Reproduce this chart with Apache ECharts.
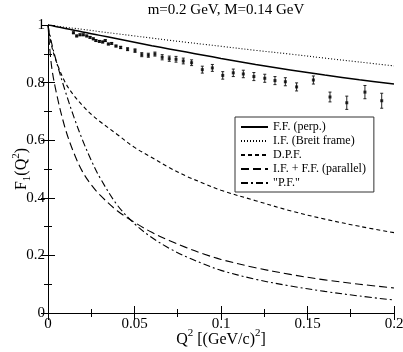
<!DOCTYPE html>
<html>
<head>
<meta charset="utf-8">
<script src="https://cdn.jsdelivr.net/npm/echarts@6/dist/echarts.min.js"></script>
<style>
  html, body { margin: 0; padding: 0; background: #fff; }
  #chart { width: 403px; height: 352px; }
</style>
</head>
<body>
<div id="chart"></div>
<script>
/* Q^2 grid used for the model curves */
let qGrid = [0, 0.002, 0.005, 0.01, 0.015, 0.02, 0.025, 0.03, 0.04, 0.05, 0.06, 0.07, 0.08, 0.09, 0.1, 0.12, 0.14, 0.16, 0.18, 0.2];

/* model curves */
let ffPerp = [1, 0.998, 0.994, 0.988, 0.982, 0.976, 0.970, 0.964, 0.952, 0.940, 0.928, 0.917, 0.906, 0.895, 0.884, 0.863, 0.844, 0.826, 0.810, 0.795];
let ifBreit = [1, 0.9984, 0.996, 0.992, 0.9885, 0.985, 0.981, 0.977, 0.9695, 0.962, 0.9545, 0.947, 0.940, 0.933, 0.926, 0.912, 0.899, 0.885, 0.8715, 0.858];
let dpf = [1, 0.93, 0.87, 0.80, 0.755, 0.72, 0.69, 0.665, 0.62, 0.575, 0.54, 0.505, 0.475, 0.45, 0.426, 0.39, 0.355, 0.326, 0.301, 0.279];
let ifffPar = [1, 0.86, 0.76, 0.64, 0.555, 0.49, 0.445, 0.41, 0.355, 0.315, 0.28, 0.252, 0.227, 0.205, 0.186, 0.157, 0.134, 0.115, 0.1, 0.087];
let pfCurve = [1, 0.94, 0.87, 0.77, 0.68, 0.60, 0.53, 0.47, 0.375, 0.31, 0.262, 0.225, 0.195, 0.17, 0.148, 0.117, 0.094, 0.075, 0.059, 0.045];

/* experimental points */
let expQ = [0.0147, 0.0166, 0.0185, 0.0204, 0.0224, 0.0243, 0.0262, 0.0277, 0.0297, 0.0316, 0.0331, 0.0349, 0.0368, 0.0393, 0.042, 0.046, 0.0503, 0.0542, 0.058, 0.0618, 0.066, 0.0701, 0.074, 0.0782, 0.083, 0.0892, 0.095, 0.101, 0.1071, 0.1129, 0.119, 0.1253, 0.1312, 0.1372, 0.1437, 0.1534, 0.163, 0.1727, 0.1832, 0.1929];
let expF = [0.973, 0.962, 0.966, 0.966, 0.962, 0.957, 0.952, 0.946, 0.943, 0.941, 0.946, 0.934, 0.936, 0.927, 0.922, 0.916, 0.911, 0.897, 0.895, 0.899, 0.888, 0.883, 0.881, 0.875, 0.869, 0.845, 0.851, 0.825, 0.834, 0.830, 0.821, 0.815, 0.807, 0.803, 0.785, 0.809, 0.750, 0.730, 0.767, 0.737];
let expErr = [0.003, 0.003, 0.003, 0.003, 0.003, 0.003, 0.003, 0.003, 0.003, 0.003, 0.003, 0.003, 0.003, 0.003, 0.004, 0.005, 0.006, 0.007, 0.007, 0.007, 0.009, 0.009, 0.01, 0.01, 0.01, 0.012, 0.012, 0.013, 0.013, 0.013, 0.014, 0.014, 0.014, 0.014, 0.014, 0.014, 0.017, 0.023, 0.023, 0.026];

let xTicks = [0, 0.05, 0.1, 0.15, 0.2];
let yTicks = [0, 0.2, 0.4, 0.6, 0.8, 1];

let FONT = "'Liberation Serif', 'DejaVu Serif', serif";

function pairs(ys) {
  return qGrid.map(function (q, i) { return [q, ys[i]]; });
}

let chart = echarts.init(document.getElementById("chart"), null, { renderer: "canvas" });

let axisCommon = {
  type: "value",
  axisLine: { show: true, lineStyle: { color: "#000", width: 1 } },
  axisTick: { show: true, inside: true, length: 7, lineStyle: { color: "#000" } },
  minorTick: { show: true, splitNumber: 2, length: 4, lineStyle: { color: "#000" } },
  splitLine: { show: false },
};

function curve(name, ys, width, dash) {
  return {
    name: name,
    type: "line",
    data: pairs(ys),
    smooth: 0.35,
    symbol: "none",
    lineStyle: { color: "#000", width: width, type: dash },
    itemStyle: { color: "#000" },
    z: 3,
  };
}

let option = {
  animation: false,
  backgroundColor: "#fff",
  title: {
    text: "m=0.2 GeV, M=0.14 GeV",
    left: 221,
    textAlign: "center",
    top: -2,
    textStyle: { fontFamily: FONT, fontSize: 15, fontWeight: "normal", color: "#000" },
  },
  grid: { left: 48, right: 9, top: 25, bottom: 39, outerBoundsMode: "none", containLabel: false },
  legend: {
    orient: "vertical",
    left: 235,
    top: 117,
    padding: [4, 8, 3, 5],
    itemGap: 2,
    itemWidth: 27,
    itemHeight: 12,
    borderColor: "#333",
    borderWidth: 1,
    backgroundColor: "#fff",
    itemStyle: { opacity: 0 },
    textStyle: { fontFamily: FONT, fontSize: 12, color: "#000" },
    data: ["F.F. (perp.)", "I.F. (Breit frame)", "D.P.F.", "I.F. + F.F. (parallel)", "\"P.F.\""],
  },
  xAxis: [
    Object.assign({}, axisCommon, {
      min: xTicks[0],
      max: xTicks[xTicks.length - 1],
      interval: 0.05,
      axisLabel: { color: "#000", fontFamily: FONT, fontSize: 15, margin: 4 },
      name: "{a|Q}{s|2}{a| [(GeV/c)}{s|2}{a|]}",
      nameLocation: "middle",
      nameMoveOverlap: false,
      nameGap: 15,
      nameTextStyle: {
        rich: {
          a: { fontFamily: FONT, fontSize: 16, color: "#000", lineHeight: 20, verticalAlign: "bottom" },
          s: { fontFamily: FONT, fontSize: 11, color: "#000", lineHeight: 12, verticalAlign: "top" },
        },
      },
    }),
    Object.assign({}, axisCommon, {
      position: "top",
      min: xTicks[0],
      max: xTicks[xTicks.length - 1],
      interval: 0.05,
      axisLabel: { show: false },
    }),
  ],
  yAxis: [
    Object.assign({}, axisCommon, {
      min: yTicks[0],
      max: yTicks[yTicks.length - 1],
      interval: 0.2,
      axisLabel: { color: "#000", fontFamily: FONT, fontSize: 15, margin: 3 },
      name: "{a|F}{b|1}{a|(Q}{s|2}{a|)}",
      nameLocation: "middle",
      nameMoveOverlap: false,
      nameRotate: 90,
      nameGap: 15,
      nameTextStyle: {
        rich: {
          a: { fontFamily: FONT, fontSize: 16, color: "#000", lineHeight: 22, verticalAlign: "middle" },
          b: { fontFamily: FONT, fontSize: 11, color: "#000", lineHeight: 22, verticalAlign: "bottom" },
          s: { fontFamily: FONT, fontSize: 11, color: "#000", lineHeight: 12, verticalAlign: "top" },
        },
      },
    }),
    Object.assign({}, axisCommon, {
      position: "right",
      min: yTicks[0],
      max: yTicks[yTicks.length - 1],
      interval: 0.2,
      axisLabel: { show: false },
    }),
  ],
  series: [
    curve("F.F. (perp.)", ffPerp, 1.5, "solid"),
    curve("I.F. (Breit frame)", ifBreit, 1.1, [1, 2]),
    curve("D.P.F.", dpf, 1.1, [4, 3]),
    curve("I.F. + F.F. (parallel)", ifffPar, 1.1, [8, 4]),
    curve("\"P.F.\"", pfCurve, 1.1, [7, 3, 2, 3]),
    {
      name: "errors",
      type: "custom",
      data: expQ.map(function (q, i) { return [q, expF[i], expErr[i]]; }),
      renderItem: function (params, api) {
        let x = api.value(0), y = api.value(1), e = api.value(2);
        let top = api.coord([x, y + e]);
        let bot = api.coord([x, y - e]);
        let st = { stroke: "#222", lineWidth: 1 };
        return {
          type: "group",
          children: [
            { type: "line", shape: { x1: top[0], y1: top[1], x2: bot[0], y2: bot[1] }, style: st },
            { type: "line", shape: { x1: top[0] - 1.5, y1: top[1], x2: top[0] + 1.5, y2: top[1] }, style: st },
            { type: "line", shape: { x1: bot[0] - 1.5, y1: bot[1], x2: bot[0] + 1.5, y2: bot[1] }, style: st },
          ],
        };
      },
      z: 4,
    },
    {
      name: "data",
      type: "scatter",
      data: expQ.map(function (q, i) { return [q, expF[i]]; }),
      symbol: "rect",
      symbolSize: 3,
      itemStyle: { color: "#000" },
      z: 5,
    },
  ],
};

chart.setOption(option);
</script>
</body>
</html>
